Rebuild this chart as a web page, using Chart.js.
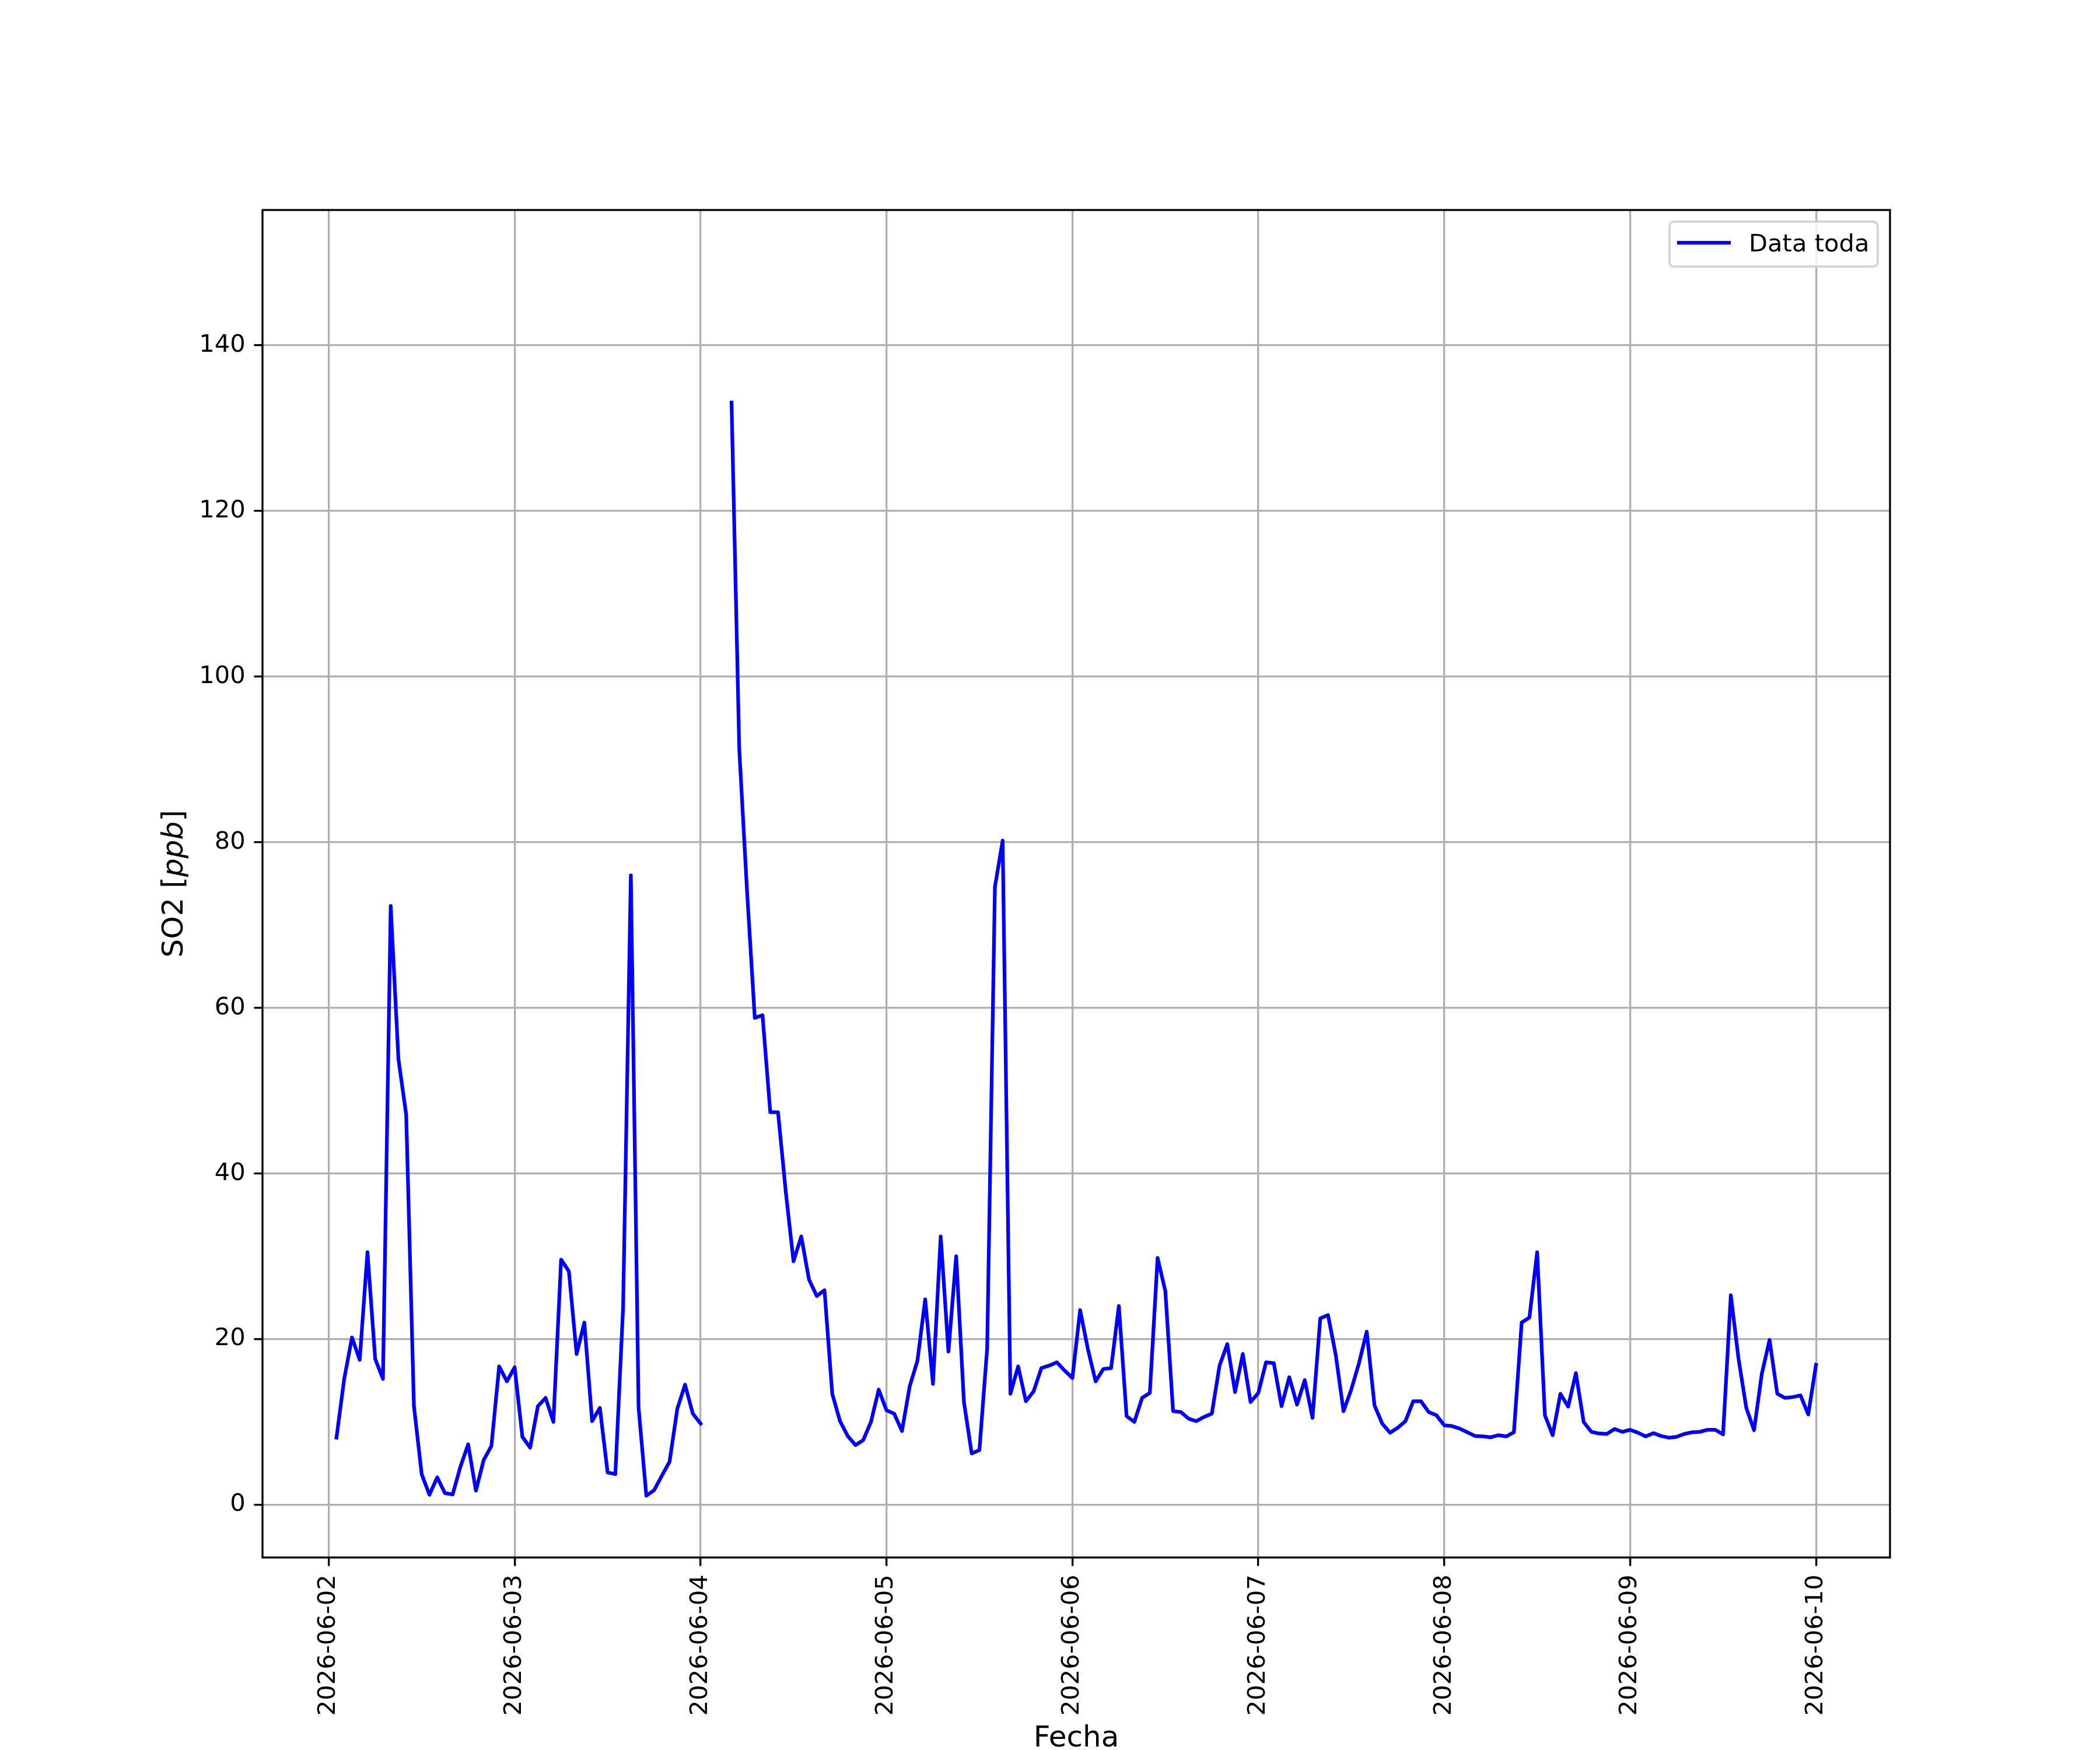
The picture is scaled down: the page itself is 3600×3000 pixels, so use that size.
<!DOCTYPE html>
<html lang="es">
<head>
  <meta charset="UTF-8">
  <title>SO2</title>
  <script src="https://cdn.jsdelivr.net/npm/chart.js"></script>
  <style>
    html, body { margin: 0; padding: 0; background: #fff; }
    canvas { display: block; }
  </style>
</head>
<body>
<canvas id="so2Chart" width="3600" height="3000" style="width:3600px;height:3000px"></canvas>
<script>
  // hourly SO2 readings starting 2026-06-02 01:00, null = no data
  const firstHour = 1;
  const so2 = [
    8.1, 15.2, 20.2, 17.5, 30.5, 17.6, 15.2, 72.3, 53.8, 47.1,
    11.9, 3.7, 1.2, 3.3, 1.4, 1.25, 4.6, 7.3, 1.7, 5.4,
    7.1, 16.7, 14.9, 16.6, 8.2, 6.9, 11.9, 12.9, 10.0, 29.6,
    28.2, 18.2, 22.0, 10.1, 11.7, 3.9, 3.7, 23.8, 76.0, 11.7,
    1.1, 1.75, 3.5, 5.2, 11.6, 14.5, 11.0, 9.8, null, null,
    null, 133.1, 91.2, 74.1, 58.8, 59.1, 47.4, 47.4, 37.8, 29.4,
    32.4, 27.2, 25.2, 25.9, 13.4, 10.1, 8.3, 7.2, 7.8, 10.0,
    13.9, 11.4, 11.0, 8.9, 14.3, 17.4, 24.8, 14.6, 32.4, 18.5,
    30.0, 12.4, 6.2, 6.6, 18.9, 74.6, 80.2, 13.4, 16.7, 12.5,
    13.7, 16.5, 16.8, 17.2, 16.2, 15.3, 23.5, 18.8, 14.9, 16.4,
    16.5, 24.0, 10.7, 10.0, 12.9, 13.5, 29.8, 25.8, 11.3, 11.2,
    10.4, 10.1, 10.6, 11.0, 16.8, 19.4, 13.6, 18.2, 12.4, 13.5,
    17.2, 17.1, 11.9, 15.4, 12.1, 15.05, 10.5, 22.5, 22.9, 18.1,
    11.3, 13.9, 17.1, 20.9, 12.0, 9.8, 8.7, 9.3, 10.1, 12.5,
    12.5, 11.2, 10.8, 9.6, 9.5, 9.2, 8.75, 8.3, 8.25, 8.15,
    8.4, 8.25, 8.75, 22.0, 22.6, 30.5, 10.8, 8.4, 13.4, 11.85,
    15.9, 10.0, 8.8, 8.6, 8.55, 9.15, 8.8, 9.05, 8.7, 8.25,
    8.65, 8.3, 8.1, 8.2, 8.55, 8.75, 8.8, 9.05, 9.05, 8.5,
    25.3, 17.6, 11.7, 9.0, 15.8, 19.9, 13.4, 12.9, 13.0, 13.2,
    10.9, 16.9
  ];

  const xTickHours = [0, 24, 48, 72, 96, 120, 144, 168, 192];
  const xTickLabels = ['2026-06-02', '2026-06-03', '2026-06-04', '2026-06-05', '2026-06-06',
                       '2026-06-07', '2026-06-08', '2026-06-09', '2026-06-10'];
  const yTicks = [0, 20, 40, 60, 80, 100, 120, 140];

  const PT = 300 / 72;
  const FONT = '"DejaVu Sans", "Liberation Sans", sans-serif';

  const framePlugin = {
    id: 'frame',
    afterDraw(chart) {
      const ctx = chart.ctx;
      const a = chart.chartArea;
      ctx.save();
      // spines
      ctx.strokeStyle = '#000';
      ctx.lineWidth = 0.8 * PT;
      ctx.strokeRect(a.left, a.top, a.right - a.left, a.bottom - a.top);

      // y label with italic unit
      const parts = [['SO2 [', 'normal'], ['ppb', 'italic'], [']', 'normal']];
      ctx.translate(313, (a.top + a.bottom) / 2);
      ctx.rotate(-Math.PI / 2);
      ctx.fillStyle = '#000';
      ctx.textBaseline = 'alphabetic';
      let total = 0;
      parts.forEach(p => {
        ctx.font = p[1] + ' ' + (12 * PT) + 'px ' + FONT;
        total += ctx.measureText(p[0]).width;
      });
      let x = -total / 2;
      parts.forEach(p => {
        ctx.font = p[1] + ' ' + (12 * PT) + 'px ' + FONT;
        ctx.fillText(p[0], x, 0);
        x += ctx.measureText(p[0]).width;
      });
      ctx.restore();

      // legend box, upper right
      const ds = chart.data.datasets[0];
      ctx.save();
      const bx = 2862, by = 380, bw = 357, bh = 77, r = 8;
      ctx.beginPath();
      ctx.roundRect(bx, by, bw, bh, r);
      ctx.fillStyle = 'rgba(255,255,255,0.8)';
      ctx.fill();
      ctx.lineWidth = 1.0 * PT;
      ctx.strokeStyle = 'rgba(204,204,204,0.8)';
      ctx.stroke();
      ctx.beginPath();
      ctx.moveTo(2875, 416);
      ctx.lineTo(2967, 416);
      ctx.strokeStyle = ds.borderColor;
      ctx.lineWidth = ds.borderWidth;
      ctx.lineCap = 'butt';
      ctx.stroke();
      ctx.fillStyle = '#000';
      ctx.font = (10 * PT) + 'px ' + FONT;
      ctx.textBaseline = 'alphabetic';
      ctx.fillText(ds.label, 2998, 431);
      ctx.restore();
    }
  };

  Chart.defaults.color = '#000';
  Chart.defaults.font.family = FONT;

  const ctx = document.getElementById('so2Chart').getContext('2d');
  new Chart(ctx, {
    type: 'line',
    data: {
      datasets: [{
        label: 'Data toda',
        data: so2.map((v, i) => ({ x: firstHour + i, y: v })),
        borderColor: '#0000ff',
        borderWidth: 1.5 * PT,
        borderJoinStyle: 'round',
        borderCapStyle: 'square',
        pointRadius: 0,
        tension: 0,
        spanGaps: false,
        fill: false
      }]
    },
    options: {
      responsive: false,
      devicePixelRatio: 1,
      animation: false,
      layout: { padding: { left: 0, top: 360, right: 360, bottom: 0 } },
      plugins: {
        legend: { display: false },
        tooltip: { enabled: false }
      },
      scales: {
        x: {
          type: 'linear',
          min: -8.55,
          max: 201.55,
          afterBuildTicks: axis => { axis.ticks = xTickHours.map(v => ({ value: v })); },
          afterFit: axis => { axis.height = 330; },
          ticks: {
            autoSkip: false,
            minRotation: 90,
            maxRotation: 90,
            padding: 3.5 * PT,
            font: { size: 10 * PT },
            callback: value => xTickLabels[xTickHours.indexOf(value)]
          },
          grid: {
            color: '#b0b0b0',
            lineWidth: 0.8 * PT,
            drawTicks: true,
            tickLength: 3.5 * PT,
            tickColor: '#000',
            tickWidth: 0.8 * PT
          },
          border: { display: false },
          title: {
            display: true,
            text: 'Fecha',
            font: { size: 12 * PT, lineHeight: 0.76 },
            padding: 0
          }
        },
        y: {
          type: 'linear',
          min: -6.37,
          max: 156.34,
          afterBuildTicks: axis => { axis.ticks = yTicks.map(v => ({ value: v })); },
          afterFit: axis => { axis.width = 450; },
          ticks: {
            padding: 3.5 * PT,
            font: { size: 10 * PT },
            callback: value => String(value)
          },
          grid: {
            color: '#b0b0b0',
            lineWidth: 0.8 * PT,
            drawTicks: true,
            tickLength: 3.5 * PT,
            tickColor: '#000',
            tickWidth: 0.8 * PT
          },
          border: { display: false }
        }
      }
    },
    plugins: [framePlugin]
  });
</script>
</body>
</html>
